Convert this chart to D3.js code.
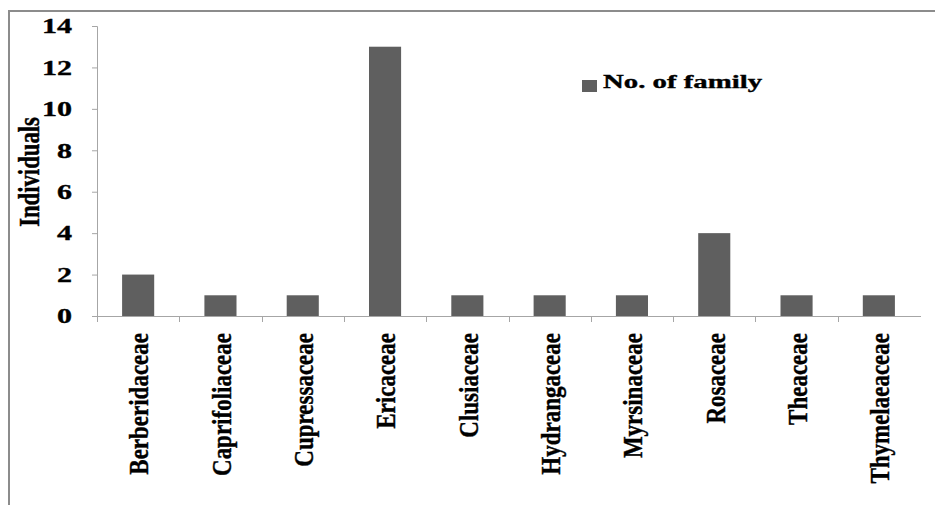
<!DOCTYPE html>
<html>
<head>
<meta charset="utf-8">
<script src="https://cdn.jsdelivr.net/npm/d3@7"></script>
<style>
  html, body { margin: 0; padding: 0; background: #fff; }
  svg { display: block; }
  text { font-family: "Liberation Serif", "Times New Roman", serif; font-weight: bold; fill: #000;
         stroke: #000; stroke-width: 0.35px; }
</style>
</head>
<body>
<svg id="chart" width="935" height="505"></svg>
<script>
// Plant families and the number of individuals recorded in each
const families = ["Berberidaceae", "Caprifoliaceae", "Cupressaceae", "Ericaceae", "Clusiaceae",
                  "Hydrangaceae", "Myrsinaceae", "Rosaceae", "Theaceae", "Thymelaeaceae"];
const individuals = [2, 1, 1, 13, 1, 1, 1, 4, 1, 1];
const yTicks = [0, 2, 4, 6, 8, 10, 12, 14];
const seriesName = "No. of family";
const yTitle = "Individuals";

const svg = d3.select("#chart");
const plotLeft = 97, plotRight = 920, plotTop = 26, plotBottom = 316;
const barColor = "#5f5f5f";
const axisColor = "#a6a6a6";

// outer frame
svg.append("rect")
  .attr("x", 9).attr("y", 11).attr("width", 940).attr("height", 510)
  .attr("fill", "none").attr("stroke", "#8c8c8c").attr("stroke-width", 2);

const x = d3.scaleBand().domain(families).range([plotLeft, plotRight])
  .paddingInner(0.61).paddingOuter(0.305);
const y = d3.scaleLinear().domain([0, 14]).range([plotBottom, plotTop]);

// y axis
const yAxis = svg.append("g").attr("transform", `translate(${plotLeft},0)`)
  .call(d3.axisLeft(y).tickValues(yTicks).tickSize(5).tickPadding(0));
yAxis.select(".domain").attr("stroke", axisColor).attr("d", `M-5,${plotTop + 0.5}H0.5V${plotBottom + 6}`);
yAxis.selectAll(".tick line").attr("stroke", axisColor);
yAxis.selectAll(".tick text")
  .attr("font-size", 20)
  .attr("x", -25 / 1.5)
  .attr("dy", "0.34em")
  .attr("transform", "scale(1.5,1)")
  .attr("fill", "#000")
  .style("font-family", "'Liberation Serif', 'Times New Roman', serif")
  .style("font-weight", "bold");

// x axis line and category boundary ticks
const step = x.step();
const boundaries = d3.range(1, families.length).map(i => plotLeft + i * step);
svg.append("line")
  .attr("x1", plotLeft).attr("x2", plotRight + 1)
  .attr("y1", plotBottom + 0.5).attr("y2", plotBottom + 0.5)
  .attr("stroke", axisColor);
svg.selectAll(".xtick").data(boundaries).join("line")
  .attr("class", "xtick")
  .attr("x1", d => Math.round(d) + 0.5).attr("x2", d => Math.round(d) + 0.5)
  .attr("y1", plotBottom).attr("y2", plotBottom + 6)
  .attr("stroke", axisColor);

// bars
svg.selectAll(".bar").data(individuals).join("rect")
  .attr("class", "bar")
  .attr("x", (d, i) => x(families[i]))
  .attr("width", x.bandwidth())
  .attr("y", d => y(d))
  .attr("height", d => y(0) - y(d))
  .attr("fill", barColor);

// category labels, rotated
svg.selectAll(".cat").data(families).join("text")
  .attr("class", "cat")
  .attr("font-size", 23)
  .attr("text-anchor", "end")
  .attr("transform", d => `translate(${x(d) + x.bandwidth() / 2 + 1},333) rotate(-90) scale(1,1.15)`)
  .attr("dy", "0.35em")
  .text(d => d);

// y axis title
svg.append("text")
  .attr("font-size", 22.7)
  .attr("text-anchor", "middle")
  .attr("transform", "translate(29,172) rotate(-90) scale(1,1.3)")
  .attr("dy", "0.35em")
  .text(yTitle);

// legend
svg.append("rect").attr("x", 582).attr("y", 80).attr("width", 15).attr("height", 12).attr("fill", barColor);
svg.append("text")
  .attr("font-size", 18)
  .attr("transform", "translate(603,88) scale(1.6,1)")
  .text(seriesName);
</script>
</body>
</html>
